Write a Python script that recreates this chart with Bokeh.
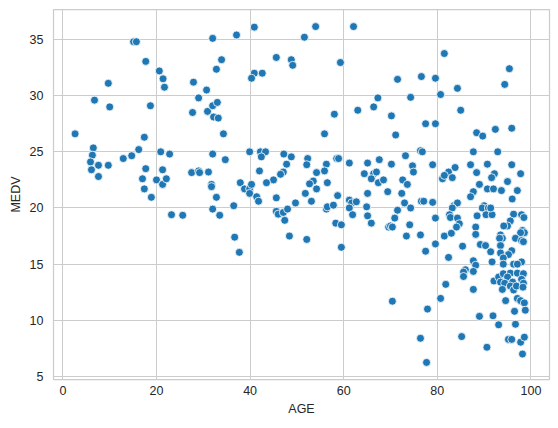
from bokeh.plotting import figure
from bokeh.models import Range1d, FixedTicker, ColumnDataSource
from bokeh.embed import file_html
from bokeh.resources import INLINE

x_ticks = [0, 20, 40, 60, 80, 100]
y_ticks = [5, 10, 15, 20, 25, 30, 35]
x_label = "AGE"
y_label = "MEDV"

age = [
    15.1, 15.7, 32.0, 17.7, 20.6, 21.4, 21.7, 9.7, 6.75, 10.0, 18.7, 2.6, 17.4, 6.5, 6.3, 5.9, 6.1, 7.6, 7.6, 9.7,
    12.9, 14.7, 16.2, 20.9, 22.8, 17.7, 17.0, 17.4, 18.9, 21.3, 20.0, 21.3, 22.1, 27.9, 30.7, 29.0, 27.7, 30.9, 32.0, 32.2,
    33.0, 33.2, 33.9, 32.8, 32.0, 27.5, 29.0, 29.2, 31.1, 31.75, 31.75, 32.8, 34.3,
    37.1, 40.9, 51.6, 54.0, 62.1, 45.6, 48.8, 49.1, 40.9, 40.3, 42.6, 59.3, 58.0, 55.9, 63.0, 66.4, 67.3, 34.7, 39.9,
    42.2, 43.3, 42.4, 47.2, 48.8, 47.8, 52.3, 52.1, 56.3, 58.5, 58.9, 61.2, 65.1, 67.6, 42.0, 47.1, 46.5, 45.0, 43.5,
    54.2, 55.9, 53.5, 52.7, 56.5, 54.2, 51.8, 64.4, 66.4, 67.0, 65.9, 67.4, 65.1, 58.7, 37.9, 38.8, 39.9, 40.3, 39.9,
    41.4, 45.6,
    81.5, 95.4, 94.4, 71.5, 76.6, 79.6, 84.3, 80.7, 74.3, 70.2, 85.0, 77.5, 79.6, 71.1, 88.4, 89.7, 92.4, 95.9, 87.7,
    92.9, 76.4, 76.8, 73.2, 70.2, 74.7, 74.9, 79.0, 87.1, 90.7, 95.9, 97.8, 88.4, 92.2, 91.6, 95.0, 89.0, 90.7, 92.0,
    93.7, 97.1, 87.7, 87.1, 83.8, 82.4, 81.1, 83.2, 81.5, 68.5, 69.4, 72.4, 72.6, 73.6,
    23.2, 25.6, 32.0, 33.5,
    36.5, 36.7, 37.7, 41.8, 45.6, 46.0, 47.1, 48.0, 47.4, 48.4, 49.7, 53.1, 52.1, 56.3, 56.5, 57.8, 58.3, 59.5, 59.5,
    61.2, 61.7, 62.7, 61.2, 61.9, 64.9, 65.1, 65.9,
    73.0, 71.5, 74.3, 70.9, 69.6, 70.0, 70.4, 74.1, 73.4, 76.4, 77.5, 79.6, 79.6, 76.6, 77.1, 79.0, 70.4, 77.9, 80.7,
    81.8, 76.4, 77.7, 82.4, 81.5, 83.0,
    83.5, 84.3, 83.2, 82.6, 82.8, 84.3, 84.7, 84.1, 85.4, 90.0, 89.6, 90.9, 88.5, 90.4, 91.7, 91.4, 88.2, 88.2, 89.2,
    90.3, 91.4, 87.7, 88.2, 86.0, 87.7, 91.7, 85.6,
    96.0, 96.3, 98.0, 98.5, 95.6, 95.0, 94.2, 98.2, 98.6, 97.8, 96.7, 98.0, 98.4, 93.5, 93.9, 93.3, 93.5, 95.9, 95.2,
    93.5, 94.1, 94.1, 96.3, 98.0, 97.1,
    85.6, 87.7, 92.1, 89.0, 91.9, 85.2, 90.6,
    93.1, 94.1, 95.6, 97.1, 98.4, 95.0, 93.5, 94.4, 96.1, 98.0, 98.4, 93.9, 95.6, 96.3, 96.9, 98.3, 94.6, 97.1, 97.8,
    98.6, 96.5, 98.8, 93.1, 96.7, 95.2, 95.9, 97.8, 98.6, 98.2,
]

medv = [
    34.8, 34.8, 35.1, 33.05, 32.2, 31.5, 30.75, 31.1, 29.6, 29.0, 29.1, 26.6, 26.3, 25.35, 24.7, 24.1, 23.4, 23.8, 22.8, 23.8,
    24.4, 24.65, 25.2, 25.0, 24.8, 23.5, 22.6, 21.7, 20.95, 23.4, 22.5, 22.1, 22.6, 31.2, 30.5, 29.8, 28.5, 28.6, 29.1, 28.1,
    29.4, 28.0, 33.2, 32.35, 24.8, 23.15, 23.3, 23.15, 23.2, 22.1, 21.9, 20.95, 26.6,
    35.4, 36.1, 35.2, 36.15, 36.15, 33.4, 33.2, 32.7, 32.0, 31.55, 32.0, 32.95, 28.35, 26.6, 28.7, 29.0, 29.8, 24.3, 25.0,
    25.0, 25.0, 24.55, 24.8, 24.55, 23.9, 24.4, 23.85, 23.9, 24.4, 24.4, 24.0, 24.0, 24.3, 23.3, 23.2, 23.0, 22.5, 22.25,
    23.15, 23.3, 22.4, 22.15, 22.25, 21.7, 21.3, 23.05, 23.05, 23.2, 22.6, 22.25, 21.3, 21.1, 22.25, 21.7, 21.7, 22.1, 21.3,
    21.0, 20.9,
    33.75, 32.4, 31.0, 31.45, 31.7, 31.55, 30.65, 30.1, 29.85, 28.2, 28.7, 27.5, 27.5, 26.5, 26.7, 26.4, 27.0, 27.1, 25.0,
    25.0, 25.1, 25.0, 24.65, 23.9, 23.75, 23.2, 23.85, 23.85, 23.9, 23.85, 23.05, 23.15, 23.05, 22.7, 22.35, 22.1, 21.7, 21.7,
    21.55, 21.55, 21.45, 21.0, 23.6, 23.2, 22.6, 22.7, 22.9, 22.5, 21.45, 21.3, 22.5, 22.1,
    19.4, 19.35, 19.9, 19.35,
    20.2, 17.4, 16.05, 20.6, 19.7, 19.45, 19.6, 19.9, 18.9, 17.5, 20.45, 20.6, 17.2, 19.9, 20.1, 20.25, 18.65, 18.5, 16.5,
    20.7, 20.45, 20.55, 20.0, 19.4, 20.1, 19.3, 18.65,
    20.45, 19.8, 20.0, 19.1, 18.3, 18.4, 18.3, 18.5, 17.5, 17.6, 16.15, 16.8, 19.1, 20.6, 20.6, 20.5, 11.7, 11.0, 11.95,
    13.2, 8.4, 6.25, 15.6, 17.5, 17.75,
    20.2, 20.45, 20.0, 19.4, 19.15, 19.1, 18.6, 18.3, 16.6, 20.2, 20.0, 20.0, 19.3, 19.4, 19.4, 20.0, 18.3, 17.65, 16.75,
    16.65, 16.1, 15.3, 14.9, 14.5, 14.35, 15.2, 14.3,
    20.8, 19.45, 19.4, 19.15, 18.85, 18.4, 18.4, 18.0, 17.8, 17.8, 17.3, 17.1, 17.0, 17.6, 17.3, 17.3, 16.65, 16.2, 15.85,
    16.0, 15.55, 15.0, 15.0, 15.2, 15.0,
    13.9, 12.75, 13.5, 10.35, 10.4, 8.55, 7.6,
    13.85, 14.15, 14.2, 14.2, 14.15, 13.85, 13.4, 13.3, 13.4, 13.65, 13.3, 12.75, 13.05, 12.7, 13.05, 12.95, 11.75, 11.95, 11.75,
    11.55, 10.8, 10.9, 9.6, 9.65, 8.3, 8.3, 8.05, 8.5, 7.0,
]

source = ColumnDataSource(data=dict(age=age, medv=medv))

FONT = "Liberation Sans"
TEXT = "#262626"
GRID = "#cccccc"

p = figure(
    width=552, height=424,
    output_backend="svg", toolbar_location=None,
    x_range=Range1d(-2.01, 103.97), y_range=Range1d(4.73, 37.67),
    min_border_left=53, min_border_top=9, min_border_right=3, min_border_bottom=45,
)
p.background_fill_color = "white"
p.border_fill_color = "white"
p.outline_line_color = GRID
p.outline_line_width = 1.25

p.scatter("age", "medv", source=source, size=8, fill_color="#1f77b4",
          line_color="white", line_width=0.8)

for ax, ticks in ((p.xaxis, x_ticks), (p.yaxis, y_ticks)):
    ax.ticker = FixedTicker(ticks=ticks)
    ax.axis_line_color = None
    ax.major_tick_line_color = None
    ax.minor_tick_line_color = None
    ax.major_tick_out = 0
    ax.major_tick_in = 0
    ax.major_label_text_font = FONT
    ax.major_label_text_font_size = "12.5px"
    ax.major_label_text_color = TEXT
    ax.axis_label_text_font = FONT
    ax.axis_label_text_font_size = "12.5px"
    ax.axis_label_text_font_style = "normal"
    ax.axis_label_text_color = TEXT

p.xaxis.axis_label = x_label
p.yaxis.axis_label = y_label
p.xaxis.major_label_standoff = 6
p.xaxis.axis_label_standoff = 4
p.yaxis.major_label_standoff = 10
p.yaxis.axis_label_standoff = 4

p.xgrid.grid_line_color = GRID
p.ygrid.grid_line_color = GRID
p.xgrid.grid_line_width = 1
p.ygrid.grid_line_width = 1

open("out.html", "w").write(file_html(p, INLINE))
